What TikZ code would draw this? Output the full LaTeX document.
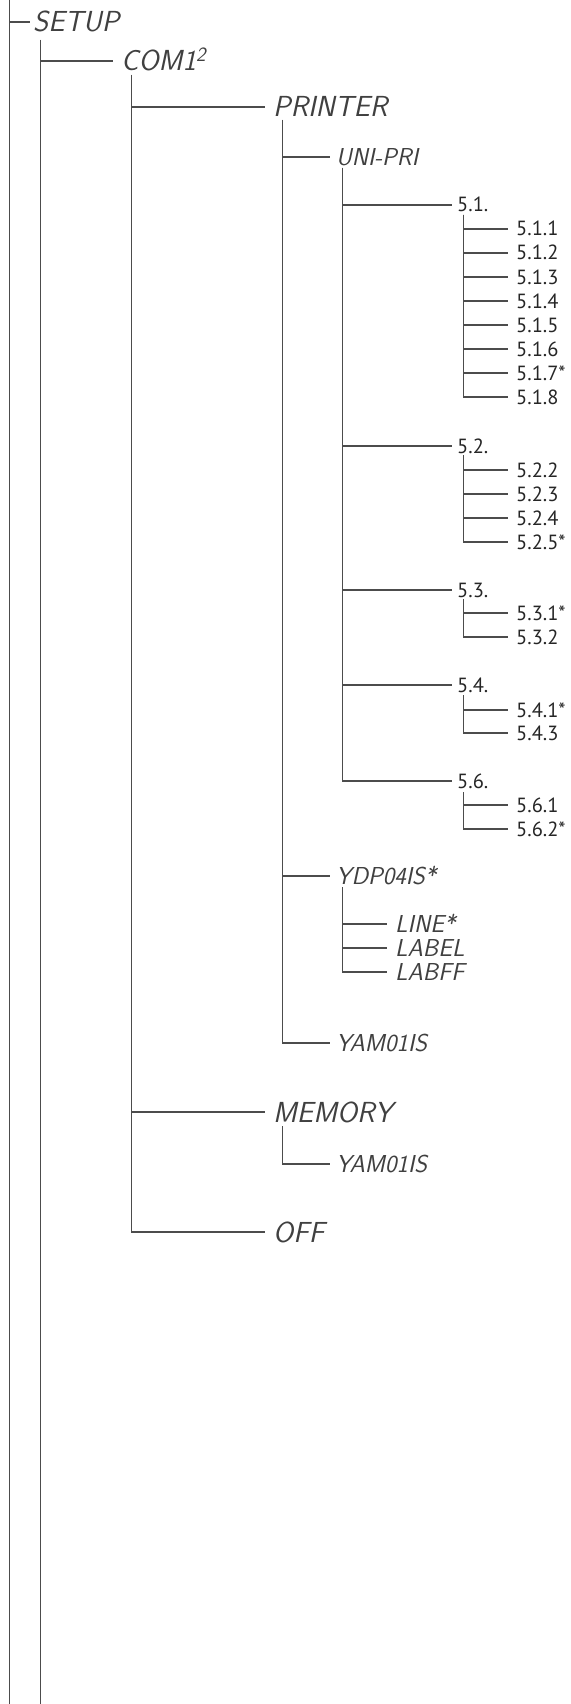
\documentclass[tikz,border=0pt]{standalone}
\usepackage{fontspec}
\newfontfamily\numfont{PT Sans}

\begin{document}
\begin{tikzpicture}[
  x=1pt,
  y=-1pt,
  link/.style={black!70, line width=1.3pt},
  lcd/.style={anchor=west, inner xsep=8pt, inner ysep=0pt, text height=20pt, text depth=0pt,
    text=black!75, font=\sffamily\itshape\fontsize{29}{30}\selectfont},
  lcdsub/.style={lcd, inner xsep=6pt, text height=17pt,
    font=\sffamily\itshape\fontsize{24.5}{26}\selectfont},
  num/.style={anchor=west, inner xsep=5pt, inner ysep=0pt, text height=14pt, text depth=0pt,
    text=black!85, font=\numfont\fontsize{20.5}{22}\selectfont},
  numsub/.style={num, inner xsep=8pt},
]
  \useasboundingbox (0,0) rectangle (570,1704);

  % trunks
  \coordinate (t0) at (9.5,0);
  \coordinate (b0) at (9.5,1704);
  \coordinate (t1) at (40.5,40);
  \coordinate (b1) at (40.5,1704);
  \coordinate (tcom) at (131.5,75);
  \coordinate (tprn) at (282.5,120);
  \coordinate (tuni) at (342.5,168);
  \coordinate (tydp) at (342.5,887);
  \coordinate (tmem) at (282.5,1126);

  % SETUP / COM1
  \node[lcd, inner xsep=3pt] (setup) at (30,22) {SETUP};
  \node[lcd] (com) at (113,61) {COM1\textsuperscript{2}};
  \draw[link] (t0) -- (b0);
  \draw[link] (t0 |- setup.west) -- (setup.west);
  \draw[link] (t1) -- (b1);
  \draw[link] (t1) |- (com.west);

  % PRINTER, MEMORY, OFF
  \node[lcd] (printer) at (265,107) {PRINTER};
  \node[lcd] (memory) at (265,1112) {MEMORY};
  \node[lcd] (off) at (265,1232) {OFF};
  \draw[link] (tcom) |- (printer.west);
  \draw[link] (tcom) |- (memory.west);
  \draw[link] (tcom) |- (off.west);

  % printer types
  \node[lcdsub] (unipri) at (330,157) {UNI-PRI};
  \node[lcdsub] (ydp) at (330,876) {YDP04IS*};
  \node[lcdsub] (yam) at (330,1043) {YAM01IS};
  \draw[link] (tprn) |- (unipri.west);
  \draw[link] (tprn) |- (ydp.west);
  \draw[link] (tprn) |- (yam.west);

  % UNI-PRI groups
  \foreach \y/\lab/\nm in {205/5.1./n51, 446/5.2./n52, 590/5.3./n53, 685/5.4./n54, 781/5.6./n56} {
    \node[num] (\nm) at (452,\y) {\lab};
    \draw[link] (tuni) |- (\nm.west);
  }

  % 5.1.
  \coordinate (t51) at (463.5,215);
  \foreach \y/\lab/\nm in {229/5.1.1/n511, 253/5.1.2/n512, 277/5.1.3/n513, 301/5.1.4/n514,
                           325/5.1.5/n515, 349/5.1.6/n516, 373/5.1.7*/n517, 397/5.1.8/n518} {
    \node[numsub] (\nm) at (508,\y) {\lab};
    \draw[link] (t51) |- (\nm.west);
  }

  % 5.2.
  \coordinate (t52) at (463.5,455);
  \foreach \y/\lab/\nm in {470/5.2.2/n522, 494/5.2.3/n523, 518/5.2.4/n524, 542/5.2.5*/n525} {
    \node[numsub] (\nm) at (508,\y) {\lab};
    \draw[link] (t52) |- (\nm.west);
  }

  % 5.3.
  \coordinate (t53) at (463.5,599);
  \foreach \y/\lab/\nm in {613/5.3.1*/n531, 637/5.3.2/n532} {
    \node[numsub] (\nm) at (508,\y) {\lab};
    \draw[link] (t53) |- (\nm.west);
  }

  % 5.4.
  \coordinate (t54) at (463.5,695);
  \foreach \y/\lab/\nm in {710/5.4.1*/n541, 733/5.4.3/n543} {
    \node[numsub] (\nm) at (508,\y) {\lab};
    \draw[link] (t54) |- (\nm.west);
  }

  % 5.6.
  \coordinate (t56) at (463.5,792);
  \foreach \y/\lab/\nm in {805/5.6.1/n561, 829/5.6.2*/n562} {
    \node[numsub] (\nm) at (508,\y) {\lab};
    \draw[link] (t56) |- (\nm.west);
  }

  % YDP04IS options
  \foreach \y/\lab/\nm in {924/LINE*/optline, 948/LABEL/optlabel, 972/LABFF/optlabff} {
    \node[lcdsub, inner xsep=8pt] (\nm) at (387,\y) {\lab};
    \draw[link] (tydp) |- (\nm.west);
  }

  % MEMORY
  \node[lcdsub] (yammem) at (330,1164) {YAM01IS};
  \draw[link] (tmem) |- (yammem.west);
\end{tikzpicture}
\end{document}
